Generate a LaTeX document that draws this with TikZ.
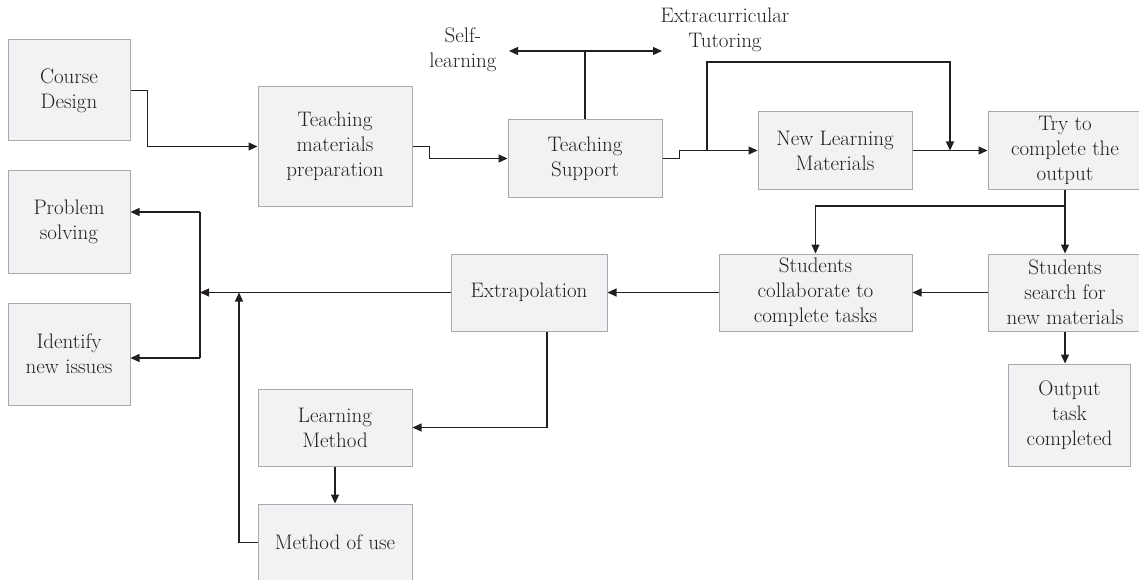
\documentclass[tikz,border=0pt]{standalone}
\usetikzlibrary{arrows.meta}
\definecolor{boxfill}{HTML}{F1F2F4}
\definecolor{boxline}{HTML}{A7A9AC}
\definecolor{ink}{HTML}{231F20}
\begin{document}
\begin{tikzpicture}[x=1pt,y=-1pt,
  every node/.style={font=\fontsize{21}{25}\selectfont, text=ink, align=center},
  box/.style={draw=boxline, fill=boxfill, line width=1pt, inner sep=0pt},
  conn/.style={draw=ink, line width=1.2pt},
  arr/.style={conn, -{Triangle[length=9pt,width=8pt]}}]
\useasboundingbox (0,0) rectangle (1139,580);

% process boxes
\node[box, minimum width=122pt, minimum height=101pt] (cd) at (69,90.5) {Course\\Design};
\node[box, minimum width=122pt, minimum height=102pt] (ps) at (69,222) {Problem\\solving};
\node[box, minimum width=122pt, minimum height=102pt] (ni) at (69,354) {Identify\\new issues};
\node[box, minimum width=154pt, minimum height=119pt] (tmp) at (335,146.5) {Teaching\\materials\\preparation};
\node[box, minimum width=154pt, minimum height=77pt] (ts) at (585,158.5) {Teaching\\Support};
\node[box, minimum width=154pt, minimum height=77pt] (nlm) at (835,150.5) {New Learning\\Materials};
\node[box, minimum width=154pt, minimum height=77pt] (try) at (1065,150.5) {Try to\\complete the\\output};
\node[box, minimum width=154pt, minimum height=77pt] (search) at (1065,292.5) {Students\\search for\\new materials};
\node[box, minimum width=193pt, minimum height=77pt] (collab) at (815.5,292.5) {Students\\collaborate to\\complete tasks};
\node[box, minimum width=156pt, minimum height=77pt] (extrap) at (529,292.5) {Extrapolation};
\node[box, minimum width=122pt, minimum height=102pt] (out) at (1069.5,415) {Output\\task\\completed};
\node[box, minimum width=154pt, minimum height=77pt] (lm) at (335,427.5) {Learning\\Method};
\node[box, minimum width=154pt, minimum height=77pt] (mou) at (335,542.5) {Method of use};

% free labels
\node (sltext) at (463,50) {Self-\\learning};
\node (ectext) at (725,30) {Extracurricular\\Tutoring};

% junction points
\coordinate (sl) at (585,51);
\coordinate (sll) at (509,51);
\coordinate (slr) at (662,51);
\coordinate (ex0) at (707,150.5);
\coordinate (exa) at (707,62);
\coordinate (exb) at (950,62);
\coordinate (exc) at (950,150.5);
\coordinate (br) at (1065,206);
\coordinate (hub) at (200,292.5);
\coordinate (bt) at (200,212);
\coordinate (bb) at (200,358);
\coordinate (jn) at (239,292.5);

% upper flow
\draw[arr] (cd.east) -- ++(17,0) |- (tmp.west);
\draw[arr] (tmp.east) -- ++(17,0) |- (ts.west);
\draw[arr] (ts.east) -- ++(17,0) |- (nlm.west);
\draw[arr] (nlm.east) -- (try.west);
\draw[conn] (ts.north) -- (sl);
\draw[arr] (sl) -- (sll);
\draw[arr] (sl) -- (slr);
\draw[arr] (ex0) -- (exa) -- (exb) -- (exc);

% right column
\draw[arr] (try.south) -- (search.north);
\draw[arr] (br) -| (collab.north);
\draw[arr] (search.south) -- (search.south |- out.north);
\draw[arr] (search.west) -- (collab.east);
\draw[arr] (collab.west) -- (extrap.east);

% left side
\draw[arr] (extrap.west) -- (hub);
\draw[conn] (bt) -- (bb);
\draw[arr] (bt) -- (bt -| ps.east);
\draw[arr] (bb) -- (bb -| ni.east);
\draw[arr] ([xshift=18pt]extrap.south) |- (lm.east);
\draw[arr] (lm.south) -- (mou.north);
\draw[arr] (mou.west) -| (jn);
\end{tikzpicture}
\end{document}
